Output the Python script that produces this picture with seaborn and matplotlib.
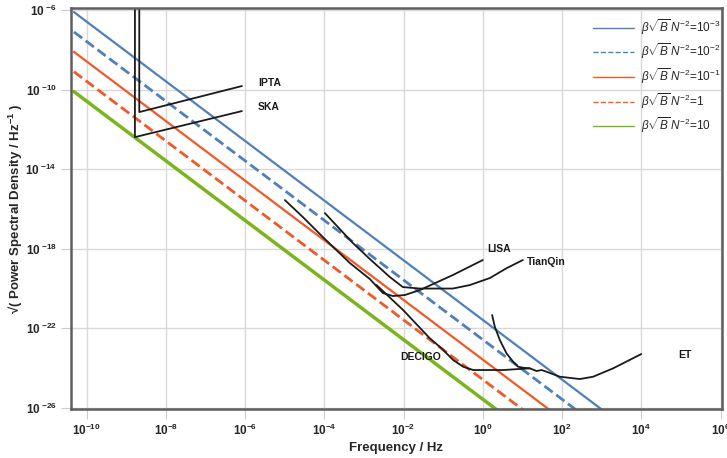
import numpy as np
import matplotlib
matplotlib.use("Agg")
import matplotlib.pyplot as plt
import seaborn as sns
from matplotlib.lines import Line2D

# ---- data (log10 values) ----
# power-law lines: start/end log10 frequency and log10 amplitude
line_labels = [r"$\beta\sqrt{B}\,N^{-2}$=10$^{-3}$",
               r"$\beta\sqrt{B}\,N^{-2}$=10$^{-2}$",
               r"$\beta\sqrt{B}\,N^{-2}$=10$^{-1}$",
               r"$\beta\sqrt{B}\,N^{-2}$=1",
               r"$\beta\sqrt{B}\,N^{-2}$=10"]
line_logf_start = [-10.32, -10.32, -10.32, -10.32, -10.32]
line_logf_end = [3.01, 2.35, 1.68, 1.01, 0.35]
line_logh_start = [-6.10, -7.10, -8.10, -9.10, -10.10]
line_logh_end = [-26.1, -26.1, -26.1, -26.1, -26.1]

ska_logf = [-8.78, -8.78, -6.08]
ska_logh = [-5.0, -12.39, -11.08]
ipta_logf = [-8.67, -8.67, -6.08]
ipta_logh = [-5.0, -11.13, -9.82]

lisa_logf = [-4.996, -4.541, -4.037, -3.355, -2.85, -2.522, -2.27, -1.967, -1.588, -0.756, 0.0]
lisa_logh = [-15.555, -16.41, -17.416, -18.723, -19.528, -20.232, -20.383, -20.333, -20.081, -19.327, -18.572]

tianqin_logf = [-3.986, -3.279, -2.85, -2.346, -2.018, -1.588, -0.756, -0.327, 0.178, 0.607, 1.011]
tianqin_logh = [-16.209, -17.717, -18.522, -19.427, -19.93, -20.006, -20.006, -19.83, -19.478, -18.975, -18.572]

decigo_logf = [-2.681, -2.01, -1.336, -1.041, -0.748, -0.496, -0.243, 0.514, 1.187]
decigo_logh = [-19.83, -21.087, -22.51, -23.013, -23.601, -23.938, -24.104, -24.104, -24.019]

et_logf = [0.236, 0.304, 0.43, 0.599, 0.766, 0.892, 1.018, 1.187, 1.356, 1.483, 1.609, 1.945, 2.449, 2.785, 3.29, 4.0]
et_logh = [-21.338, -21.927, -22.596, -23.264, -23.687, -23.938, -23.988, -24.019, -24.154, -24.104, -24.19, -24.441, -24.557, -24.441, -24.019, -23.30]

det_labels = ["IPTA", "SKA", "LISA", "TianQin", "DECIGO", "ET"]
det_label_logf = [-5.677, -5.677, 0.11, 1.112, -2.076, 4.923]
det_label_logh = [-9.671, -10.878, -18.02, -18.673, -23.466, -23.365]

x_tick_exp = [-10, -8, -6, -4, -2, 0, 2, 4, 6]
y_tick_exp = [-26, -22, -18, -14, -10, -6]

# ---- styles ----
line_colors = ["#5080bb", "#5080bb", "#f05a28", "#f05a28", "#7ab51d"]
line_styles = ["-", "--", "-", "--", "-"]
line_widths = [1.6, 2.0, 1.6, 2.0, 2.5]

sns.set_theme(style="white")
plt.rcParams["font.family"] = ["Liberation Sans", "DejaVu Sans"]
plt.rcParams["mathtext.fontset"] = "custom"
plt.rcParams["mathtext.rm"] = "Liberation Sans"
plt.rcParams["mathtext.it"] = "Liberation Sans:italic"
plt.rcParams["mathtext.bf"] = "Liberation Sans:bold"

fig = plt.figure(figsize=(7.27, 4.58), dpi=100)
ax = fig.add_axes([0.0973, 0.1063, 0.8954, 0.8756])

for i in range(len(line_labels)):
    f = 10.0 ** np.array([line_logf_start[i], line_logf_end[i]])
    h = 10.0 ** np.array([line_logh_start[i], line_logh_end[i]])
    sns.lineplot(x=f, y=h, ax=ax, color=line_colors[i], linestyle=line_styles[i],
                 linewidth=line_widths[i], sort=False, estimator=None, legend=False)

def black_curve(lf, lh):
    sns.lineplot(x=10.0 ** np.array(lf), y=10.0 ** np.array(lh), ax=ax, color="#1a1a1a",
                 linewidth=1.3, sort=False, estimator=None, legend=False)

black_curve(ska_logf, ska_logh)
black_curve(ipta_logf, ipta_logh)
black_curve(lisa_logf, lisa_logh)
black_curve(tianqin_logf, tianqin_logh)
black_curve(decigo_logf, decigo_logh)
black_curve(et_logf, et_logh)

for lab, lf, lh in zip(det_labels, det_label_logf, det_label_logh):
    ax.text(10.0 ** lf, 10.0 ** lh, lab, fontsize=7.5, fontweight="bold",
            color="#1a1a1a", ha="left", va="center")

ax.set_xscale("log")
ax.set_yscale("log")
ax.set_xlim(10.0 ** -10.40, 10.0 ** 6.03)
ax.set_ylim(10.0 ** -26.08, 10.0 ** -5.91)

ax.set_xticks([10.0 ** e for e in x_tick_exp])
ax.set_xticklabels([r"$\mathbf{10}^{\mathbf{%d}}$" % e for e in x_tick_exp])
ax.set_yticks([10.0 ** e for e in y_tick_exp])
ax.set_yticklabels([r"$\mathbf{10}^{\ \mathbf{%d}}$" % e for e in y_tick_exp])
ax.minorticks_off()
ax.tick_params(axis="both", which="major", labelsize=8.5, length=7, width=0.8,
               color="#cccccc", pad=3, direction="out", bottom=True, left=True)
ax.grid(True, which="major", color="#d9d9d9", linewidth=1.0)
ax.set_axisbelow(True)
for s in ax.spines.values():
    s.set_color("#5f5f5f")
    s.set_linewidth(1.8)

ax.set_xlabel("Frequency / Hz", fontsize=9.5, fontweight="bold")
ax.xaxis.set_label_coords(0.5, -0.082)
ax.set_ylabel("√( Power Spectral Density / Hz$^{\\mathbf{-1}}$ )", fontsize=9.5,
              fontweight="bold")
ax.yaxis.set_label_coords(-0.070, 0.5)

handles = [Line2D([0], [0], color=line_colors[i], linestyle=line_styles[i], linewidth=1.0)
           for i in range(len(line_labels))]
leg = ax.legend(handles, line_labels, loc="upper right", frameon=False, fontsize=8.5,
                handlelength=3.4, labelspacing=0.42, handletextpad=0.6,
                borderaxespad=0.0, bbox_to_anchor=(1.005, 0.99))

fig.savefig("out.png", dpi=100)
